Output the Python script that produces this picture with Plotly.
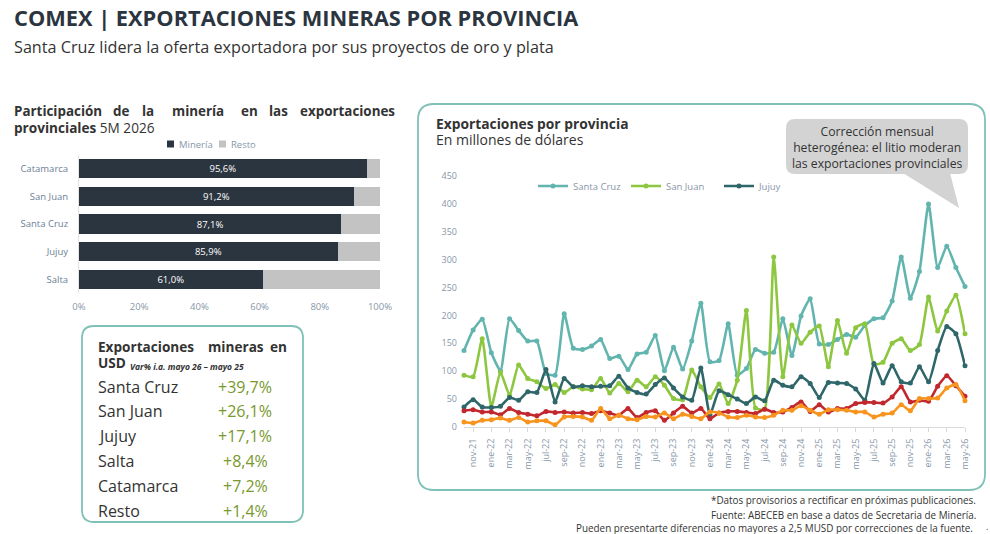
import plotly.graph_objects as go

W, H = 990, 534

# ---------------- DATA ----------------
bar_provincias = ["Catamarca", "San Juan", "Santa Cruz", "Jujuy", "Salta"]
bar_mineria = [95.6, 91.2, 87.1, 85.9, 61.0]
bar_resto = [4.4, 8.8, 12.9, 14.1, 39.0]
bar_ticks = [0, 20, 40, 60, 80, 100]
bar_series = ["Minería", "Resto"]

tabla_provincias = ["Santa Cruz", "San Juan", "Jujuy", "Salta", "Catamarca", "Resto"]
tabla_var = ["+39,7%", "+26,1%", "+17,1%", "+8,4%", "+7,2%", "+1,4%"]

meses_abr = ["ene", "feb", "mar", "abr", "may", "jun", "jul", "ago", "sep", "oct", "nov", "dic"]
meses = []
for yy in range(21, 27):
    for m in meses_abr:
        meses.append(f"{m}-{yy}")
meses = meses[meses.index("oct-21"): meses.index("may-26") + 1]
tick_meses = meses[1::2]

santa_cruz = [137, 174, 193, 133, 101, 194, 173, 154, 154, 96, 93, 203, 141, 139, 145, 157, 123, 127, 103, 131,
              134, 164, 101, 143, 104, 154, 222, 117, 119, 185, 93, 105, 139, 132, 134, 194, 128, 199, 230, 149,
              148, 157, 166, 161, 182, 194, 196, 226, 305, 231, 279, 400, 286, 324, 286, 252]
san_juan = [93, 90, 158, 36, 98, 57, 111, 87, 81, 69, 76, 62, 72, 68, 67, 87, 61, 78, 63, 84,
            72, 90, 75, 51, 49, 102, 72, 53, 77, 42, 84, 209, 34, 32, 305, 90, 183, 150, 170, 181,
            108, 191, 132, 178, 185, 112, 116, 150, 158, 137, 148, 233, 172, 208, 236, 167]
jujuy = [36, 49, 36, 35, 37, 53, 48, 63, 62, 103, 45, 87, 72, 74, 72, 73, 74, 91, 70, 62,
         59, 76, 88, 70, 54, 48, 106, 22, 65, 58, 50, 42, 54, 47, 84, 75, 72, 90, 78, 53,
         80, 79, 78, 68, 48, 114, 79, 110, 81, 79, 108, 81, 137, 180, 167, 110]
salta = [29, 31, 27, 27, 22, 33, 26, 23, 20, 28, 26, 27, 25, 26, 24, 29, 25, 21, 33, 17,
         26, 29, 12, 25, 37, 25, 33, 15, 25, 28, 28, 26, 24, 32, 26, 27, 35, 45, 28, 40,
         27, 33, 33, 42, 44, 44, 43, 54, 72, 45, 48, 46, 73, 92, 74, 55]
catamarca = [9, 7, 12, 13, 16, 12, 17, 9, 11, 11, 4, 18, 19, 18, 12, 33, 15, 21, 15, 13,
             19, 18, 25, 15, 23, 19, 15, 27, 25, 18, 17, 21, 18, 17, 21, 30, 30, 38, 30, 23,
             31, 31, 30, 27, 27, 18, 23, 25, 40, 29, 51, 51, 52, 70, 76, 47]

series = [
    ("Santa Cruz", santa_cruz, "#62b5ae", True),
    ("San Juan", san_juan, "#8dc63f", True),
    ("Jujuy", jujuy, "#2f6669", True),
    ("Salta", salta, "#c1272d", False),
    ("Catamarca", catamarca, "#f7941d", False),
]

# ---------------- helpers ----------------
def X(p):
    return p / W


def Y(p):
    return 1 - p / H


DARK = "#2b3540"
RESTO = "#c3c3c3"
GRAY = "#8797a8"
TEAL = "#7fc1b8"
TXT = "#333333"
FONT = "Open Sans"


def rrect(x0, y0, x1, y1, r):
    return (f"M {X(x0 + r)} {Y(y0)} L {X(x1 - r)} {Y(y0)} Q {X(x1)} {Y(y0)} {X(x1)} {Y(y0 + r)} "
            f"L {X(x1)} {Y(y1 - r)} Q {X(x1)} {Y(y1)} {X(x1 - r)} {Y(y1)} "
            f"L {X(x0 + r)} {Y(y1)} Q {X(x0)} {Y(y1)} {X(x0)} {Y(y1 - r)} "
            f"L {X(x0)} {Y(y0 + r)} Q {X(x0)} {Y(y0)} {X(x0 + r)} {Y(y0)} Z")


fig = go.Figure()

# ---------------- bar chart ----------------
fig.add_trace(go.Bar(
    y=bar_provincias, x=bar_mineria, orientation="h", name=bar_series[0],
    marker=dict(color=DARK, line=dict(width=0)),
    text=[f"{v:.1f}%".replace(".", ",") for v in bar_mineria],
    textposition="inside", insidetextanchor="middle",
    textfont=dict(color="white", size=9.5, family=FONT),
    xaxis="x", yaxis="y", showlegend=False, hoverinfo="skip"))
fig.add_trace(go.Bar(
    y=bar_provincias, x=bar_resto, orientation="h", name=bar_series[1],
    marker=dict(color=RESTO, line=dict(width=0)),
    xaxis="x", yaxis="y", showlegend=False, hoverinfo="skip"))

# ---------------- line chart ----------------
for name, vals, col, leg in series:
    fig.add_trace(go.Scatter(
        x=meses, y=vals, mode="lines+markers", name=name,
        line=dict(color=col, width=2.6, shape="spline", smoothing=0.5),
        marker=dict(color=col, size=5),
        showlegend=leg, xaxis="x2", yaxis="y2", legend="legend2",
        cliponaxis=False, hoverinfo="skip"))

ann = []


def txt(x, y, s, size=12, color=DARK, anchor="left", bold=False, italic=False, yanchor="middle"):
    if bold:
        s = f"<b>{s}</b>"
    if italic:
        s = f"<i>{s}</i>"
    ann.append(dict(x=X(x), y=Y(y), xref="paper", yref="paper", text=s, showarrow=False,
                    xanchor=anchor, yanchor=yanchor, align=anchor if anchor != "center" else "center",
                    font=dict(size=size, color=color, family=FONT)))


# titles
txt(12, 18, "COMEX | EXPORTACIONES MINERAS POR PROVINCIA", 21.8, DARK, bold=True)
txt(12, 47, "Santa Cruz lidera la oferta exportadora por sus proyectos de oro y plata", 16.2, TXT)

# left chart title (justified words)
words = [("Participación", 12), ("de", 111), ("la", 140), ("minería", 170), ("en", 239), ("las", 267)]
for w_, xx in words:
    txt(xx, 111, w_, 13.4, TXT, bold=True)
txt(397, 111, "exportaciones", 13.4, TXT, anchor="right", bold=True)
txt(12, 127, "<b>provinciales</b> 5M 2026", 13.6, TXT)

# custom bar legend
shapes = []
leg_items = [(bar_series[0], DARK, 167), (bar_series[1], RESTO, 219)]
for lab, col, xx in leg_items:
    shapes.append(dict(type="rect", x0=X(xx), x1=X(xx + 7), y0=Y(147.5), y1=Y(140.5),
                       xref="paper", yref="paper", fillcolor=col, line=dict(width=0)))
    txt(xx + 10, 144, lab, 9.5, GRAY)

# table
txt(96, 346, "Exportaciones", 13.6, TXT, bold=True)
txt(206, 346, "mineras", 13.6, TXT, bold=True)
txt(289, 346, "en", 13.6, TXT, anchor="right", bold=True)
txt(96, 362, "<b>USD</b>", 13.6, TXT)
txt(128, 366, "<b><i>Var% i.a. mayo 26 – mayo 25</i></b>", 8.5, TXT)
row_y = [387, 411, 436, 461, 486, 511]
for prov, v, yy in zip(tabla_provincias, tabla_var, row_y):
    txt(96, yy, prov, 16, TXT)
    txt(245, yy, v, 16, "#77992e", anchor="center")

# line chart titles
txt(434, 123, "Exportaciones por provincia", 13.8, TXT, bold=True)
txt(434, 139, "En millones de dólares", 14, TXT)

# callout text
txt(877, 147, "Corrección mensual<br>heterogénea: el litio moderan<br>las exportaciones provinciales",
    12.2, TXT, anchor="center")

# footnotes
txt(978, 500, "*Datos provisorios a rectificar en próximas publicaciones.", 9.9, TXT, anchor="right")
txt(978, 515, "Fuente: ABECEB en base a datos de Secretaria de Minería.", 9.9, TXT, anchor="right")
txt(975, 528, "Pueden presentarte diferencias no mayores a 2,5 MUSD por correcciones de la fuente.", 9.9,
    TXT, anchor="right")
txt(987, 526, ".", 9, TXT, anchor="center")

shapes += [
    dict(type="path", path=rrect(82, 326, 303, 522, 12), xref="paper", yref="paper",
         line=dict(color=TEAL, width=1.8), fillcolor="rgba(0,0,0,0)", layer="below"),
    dict(type="path", path=rrect(418, 104, 985, 490, 16), xref="paper", yref="paper",
         line=dict(color=TEAL, width=1.8), fillcolor="rgba(0,0,0,0)", layer="below"),
    dict(type="path", path=rrect(786, 119, 968, 174, 9), xref="paper", yref="paper",
         line=dict(width=0), fillcolor="#d3d3d3", layer="below"),
    dict(type="path",
         path=f"M {X(903)} {Y(173)} L {X(950)} {Y(173)} L {X(959)} {Y(208)} Z",
         xref="paper", yref="paper", line=dict(width=0), fillcolor="#d3d3d3", layer="below"),
]

fig.update_layout(
    template="none",
    width=W, height=H, margin=dict(l=0, r=0, t=0, b=0, pad=0, autoexpand=False),
    paper_bgcolor="white", plot_bgcolor="white",
    barmode="stack", bargap=0.3,
    font=dict(family=FONT, color=GRAY),
    annotations=ann, shapes=shapes,
    xaxis=dict(domain=[X(79), X(380)], range=[0, 100], tickvals=bar_ticks, automargin=False,
               ticktext=[f"{t}%" for t in bar_ticks], tickfont=dict(size=9.5, color=GRAY),
               showgrid=False, zeroline=False, showline=False, ticks="", ticklabelstandoff=6),
    yaxis=dict(domain=[Y(293), Y(155)], autorange="reversed", tickfont=dict(size=9.5, color="#6d8095"),
               showgrid=False, zeroline=False, showline=True, linecolor="#e3e3e3", linewidth=1,
               ticks="", ticklabelstandoff=8, automargin=False),
    xaxis2=dict(domain=[X(464), X(965)], type="category", range=[0, len(meses) - 1],
                tickvals=tick_meses, ticktext=tick_meses, tickangle=-90, automargin=False,
                tickfont=dict(size=9, color=GRAY), showgrid=False, zeroline=False,
                showline=True, linecolor="#d9d9d9", ticks="outside", ticklen=4, tickcolor="#d9d9d9",
                ticklabelstandoff=3, anchor="y2"),
    yaxis2=dict(domain=[Y(427), Y(176)], range=[0, 450], dtick=50, tickfont=dict(size=9, color=GRAY),
                showgrid=False, zeroline=False, showline=False, ticks="", ticklabelstandoff=6,
                anchor="x2", automargin=False),
    legend2=dict(orientation="h", x=X(533), xanchor="left", y=Y(186), yanchor="middle",
                 font=dict(size=9.5, color=GRAY), itemwidth=30, entrywidth=48, traceorder="normal",
                 bgcolor="rgba(0,0,0,0)"),
)

fig.write_html("out.html")
